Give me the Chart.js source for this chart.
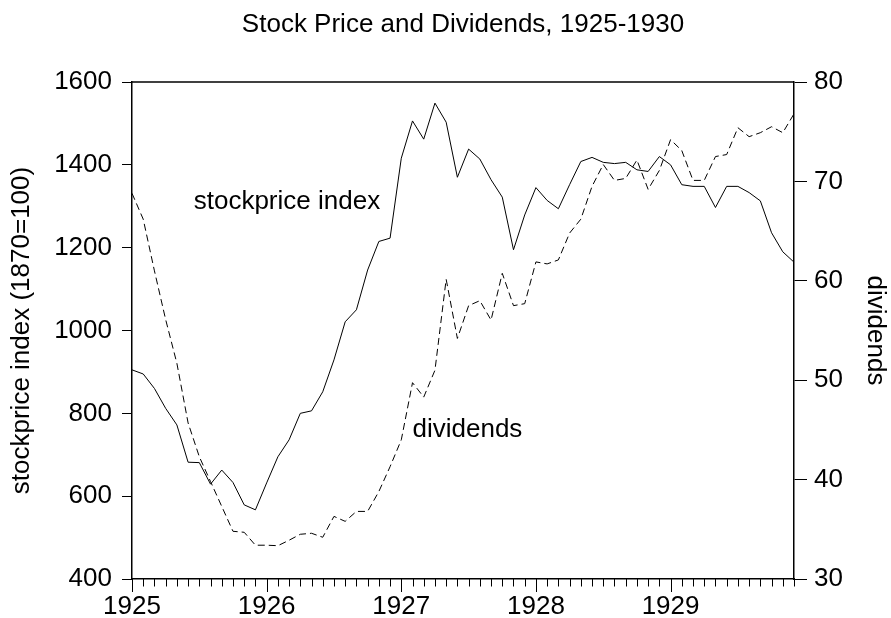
<!DOCTYPE html>
<html>
<head>
<meta charset="utf-8">
<script src="https://cdn.jsdelivr.net/npm/chart.js@4.4.1/dist/chart.umd.min.js"></script>
<style>
html,body{margin:0;padding:0;background:#fff;}
canvas{display:block;}
</style>
</head>
<body>
<canvas id="c" width="891" height="618"></canvas>
<script>
// ---- data ----
const years = [1925, 1926, 1927, 1928, 1929];
const monthsPerYear = 12;

const stockPrice = [
  905, 895, 860, 812, 772, 682, 681, 629, 663, 633, 579, 567,
  632, 695, 736, 800, 806, 852, 929, 1021, 1050, 1146, 1215, 1223,
  1416, 1506, 1462, 1549, 1503, 1370, 1438, 1414, 1364, 1322, 1195, 1279,
  1345, 1314, 1294, 1352, 1408, 1418, 1406, 1403, 1406, 1388, 1384, 1420,
  1400, 1352, 1348, 1348, 1297, 1348, 1348, 1333, 1313, 1236, 1190, 1165
];

const dividends = [
  68.8, 66.2, 61.0, 56.1, 51.7, 45.7, 42.3, 39.8, 37.3, 34.8, 34.7, 33.4,
  33.4, 33.35, 33.9, 34.5, 34.6, 34.2, 36.3, 35.8, 36.8, 36.8, 38.8, 41.3,
  44.0, 49.75, 48.3, 51.0, 60.15, 54.2, 57.5, 58.0, 56.05, 60.75, 57.5, 57.7,
  61.9, 61.7, 62.1, 64.8, 66.2, 69.5, 71.7, 70.1, 70.3, 72.15, 69.2, 71.1,
  74.2, 73.1, 70.1, 70.1, 72.5, 72.7, 75.4, 74.5, 74.9, 75.5, 74.9, 76.8
];

const leftTicks = {min: 400, max: 1600, step: 200};
const rightTicks = {min: 30, max: 80, step: 10};

const titleText = 'Stock Price and Dividends, 1925-1930';
const leftTitle = 'stockprice index (1870=100)';
const rightTitle = 'dividends';

// in-plot series labels, anchored in data coordinates (month index, left-axis value)
const seriesLabels = [
  {text: 'stockprice index', at: 5.5, value: 1293},
  {text: 'dividends', at: 25.0, value: 743}
];

// categories: one per month
const categories = [];
years.forEach(y => { for (let m = 1; m <= monthsPerYear; m++) categories.push(y + '-' + String(m).padStart(2, '0')); });

// ---- styling ----
const FONT = "'Liberation Sans', Arial, Helvetica, sans-serif";
const FS = 26;
Chart.defaults.color = '#000';
Chart.defaults.font.family = FONT;
Chart.defaults.font.size = FS;

const frameAndLabels = {
  id: 'frameAndLabels',
  afterDraw(chart) {
    const ctx = chart.ctx, xs = chart.scales.x, a = chart.chartArea;
    ctx.save();
    ctx.strokeStyle = '#000';
    // top frame
    ctx.beginPath();
    ctx.lineWidth = 1.5;
    ctx.moveTo(a.left, a.top);
    ctx.lineTo(a.right, a.top);
    ctx.stroke();
    // monthly ticks on the time axis, longer at each year
    ctx.lineWidth = 1;
    categories.forEach((c, i) => {
      const px = Math.round(xs.getPixelForValue(i)) + 0.5;
      const len = (i % monthsPerYear === 0) ? 13 : 7.5;
      ctx.beginPath();
      ctx.moveTo(px, a.bottom);
      ctx.lineTo(px, a.bottom + len);
      ctx.stroke();
    });
    // series labels
    const ys = chart.scales.y;
    ctx.fillStyle = '#000';
    ctx.font = FS + 'px ' + FONT;
    ctx.textAlign = 'left';
    ctx.textBaseline = 'alphabetic';
    seriesLabels.forEach(l => {
      ctx.fillText(l.text, xs.getPixelForValue(l.at), ys.getPixelForValue(l.value));
    });
    ctx.restore();
  }
};

new Chart(document.getElementById('c'), {
  type: 'line',
  data: {
    labels: categories,
    datasets: [
      {
        label: 'stockprice index',
        data: stockPrice,
        yAxisID: 'y',
        borderColor: '#000',
        borderWidth: 1,
        pointRadius: 0,
        tension: 0,
        fill: false
      },
      {
        label: 'dividends',
        data: dividends,
        yAxisID: 'y1',
        borderColor: '#000',
        borderWidth: 1,
        borderDash: [7, 4],
        pointRadius: 0,
        tension: 0,
        fill: false
      }
    ]
  },
  options: {
    responsive: false,
    animation: false,
    devicePixelRatio: 1,
    layout: {padding: 0},
    plugins: {
      legend: {display: false},
      tooltip: {enabled: false},
      title: {
        display: true,
        text: titleText,
        fullSize: false,
        color: '#000',
        font: {size: FS, weight: 'normal', family: FONT},
        padding: {top: 9, bottom: 41.8}
      }
    },
    scales: {
      x: {
        type: 'category',
        offset: false,
        grid: {display: true, drawOnChartArea: false, drawTicks: false},
        border: {display: true, color: '#000', width: 1.5},
        ticks: {
          autoSkip: false,
          maxRotation: 0,
          minRotation: 0,
          padding: 12,
          color: '#000',
          font: {size: FS},
          callback: (v, i) => (i % monthsPerYear === 0) ? String(years[i / monthsPerYear]) : ''
        },
        afterFit: s => { s.height = 39; }
      },
      y: {
        position: 'left',
        min: leftTicks.min,
        max: leftTicks.max,
        ticks: {stepSize: leftTicks.step, padding: 10, color: '#000', font: {size: FS}, callback: v => String(v)},
        grid: {drawOnChartArea: false, drawTicks: true, tickLength: 10, tickColor: '#000', tickWidth: 1},
        border: {display: true, color: '#000', width: 1.5},
        title: {display: true, text: leftTitle, color: '#000', font: {size: FS}, padding: {top: 6, bottom: 0}},
        afterFit: s => { s.width = 132; }
      },
      y1: {
        position: 'right',
        min: rightTicks.min,
        max: rightTicks.max,
        ticks: {stepSize: rightTicks.step, padding: 7, color: '#000', font: {size: FS}, callback: v => String(v)},
        grid: {drawOnChartArea: false, drawTicks: true, tickLength: 13, tickColor: '#000', tickWidth: 1},
        border: {display: true, color: '#000', width: 1.5},
        title: {display: true, text: rightTitle, color: '#000', font: {size: FS}, padding: {top: 0, bottom: 0}},
        afterFit: s => { s.width = 97; }
      }
    }
  },
  plugins: [frameAndLabels]
});
</script>
</body>
</html>
